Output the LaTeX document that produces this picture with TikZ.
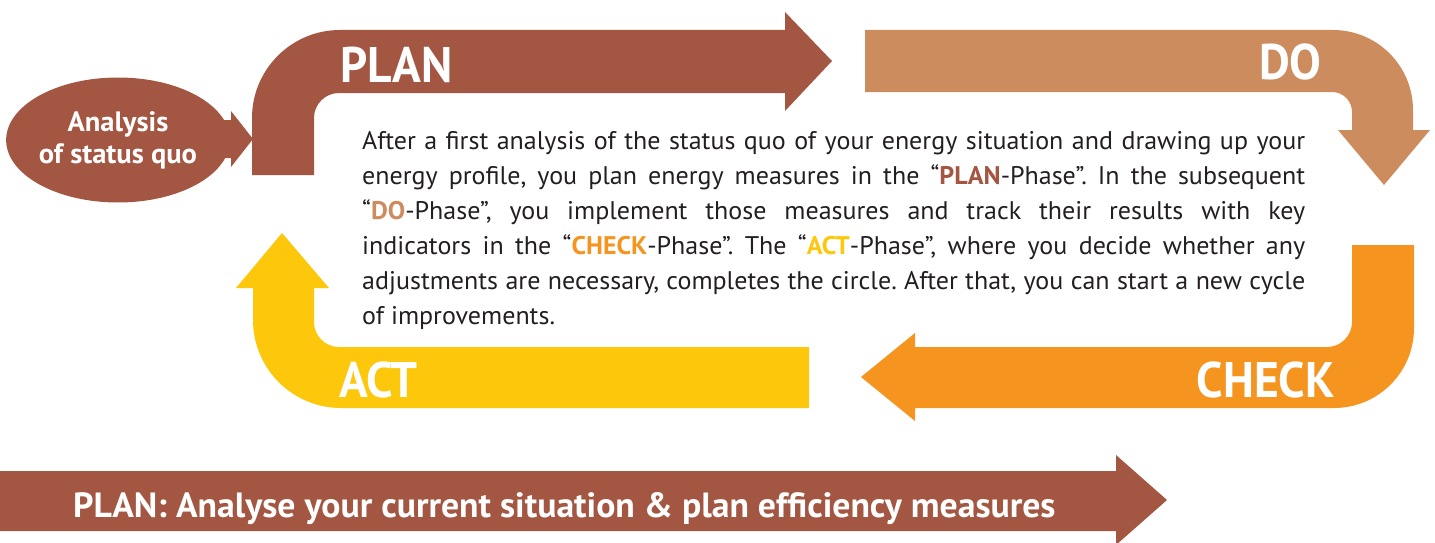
\documentclass[tikz,border=0pt]{standalone}
\usepackage{fontspec}
\setmainfont[FakeStretch=1.02]{PT Sans}
\newfontfamily\headfont[FakeStretch=0.95]{PT Sans}
\usetikzlibrary{shapes.geometric}

\definecolor{plancol}{RGB}{163,86,66}
\definecolor{docol}{RGB}{205,140,94}
\definecolor{checkcol}{RGB}{245,148,30}
\definecolor{actcol}{RGB}{253,199,12}
\definecolor{txtcol}{RGB}{35,31,32}

\newcommand{\pword}[2]{\textcolor{#1}{\bfseries #2}}

\begin{document}
\frenchspacing
\begin{tikzpicture}[
  x=1pt, y=1pt,
  phase/.style={text=white, inner sep=0, font=\headfont\fontsize{50}{50}\selectfont\bfseries},
  quo/.style={ellipse, fill=plancol, minimum width=220pt, minimum height=125pt, inner sep=0, align=center, text=white, font=\fontsize{28}{32}\selectfont\bfseries},
  body/.style={text width=943pt, align=justify, inner sep=0, text=txtcol, font=\fontsize{25.5}{35}\selectfont},
  banner/.style={text=white, inner sep=0, font=\fontsize{35}{35}\selectfont\bfseries}
]
\useasboundingbox (0,0) rectangle (1435,-543);

% PLAN arrow
\fill[plancol] (252,-175) -- (252,-118) arc[start angle=180, end angle=90, radius=88]
  -- (785,-30) -- (785,-12) -- (832,-61) -- (785,-111) -- (785,-93)
  -- (339,-93) arc[start angle=90, end angle=180, radius=25] -- (314,-175) -- cycle;
% DO arrow
\fill[docol] (865,-30) -- (1333,-30) arc[start angle=90, end angle=0, radius=80]
  -- (1413,-130) -- (1430,-130) -- (1384,-185) -- (1338,-130) -- (1352,-130)
  -- (1352,-112) arc[start angle=0, end angle=90, radius=20] -- (865,-92) -- cycle;
% CHECK arrow
\fill[checkcol] (1414,-245) -- (1414,-328) arc[start angle=0, end angle=-90, radius=80]
  -- (915,-408) -- (915,-421) -- (861,-377) -- (915,-333) -- (915,-347)
  -- (1327,-347) arc[start angle=-90, end angle=0, radius=25] -- (1352,-245) -- cycle;
% ACT arrow
\fill[actcol] (809,-347) -- (339,-347) arc[start angle=-90, end angle=-180, radius=25]
  -- (314,-288) -- (329,-288) -- (282,-233) -- (236,-288) -- (253,-288)
  -- (253,-320) arc[start angle=180, end angle=270, radius=88] -- (809,-408) -- cycle;

% status quo
\node[quo] (quo) at (118,-140) {Analysis\\of status quo};
\fill[plancol] (210,-120) -- (231,-120) -- (231,-111) -- (253,-139)
  -- (231,-167) -- (231,-158) -- (210,-158) -- cycle;

\node[phase, anchor=base west] (lplan) at (340,-82) {PLAN};
\node[phase, anchor=base east] (ldo) at (1322,-80) {DO};
\node[phase, anchor=base east] (lcheck) at (1335,-397) {CHECK};
\node[phase, anchor=base west] (lact) at (339,-397) {ACT};

\node[body, anchor=north west] (txt) at (362,-131) {After a first analysis of the status quo of your energy situation and drawing up your\linebreak
energy profile, you plan energy measures in the “\pword{plancol}{PLAN}-Phase”. In the subsequent\linebreak
“\pword{docol}{DO}-Phase”, you implement those measures and track their results with key\linebreak
indicators in the “\pword{checkcol}{CHECK}-Phase”. The “\pword{actcol}{ACT}-Phase”, where you decide whether any\linebreak
adjustments are necessary, completes the circle. After that, you can start a new cycle\linebreak
of improvements.};

% bottom banner
\fill[plancol] (0,-471) -- (1116,-471) -- (1116,-455) -- (1167,-500)
  -- (1116,-545) -- (1116,-531) -- (0,-531) -- cycle;
\node[banner, anchor=base west] (bplan) at (73,-517) {PLAN: Analyse your current situation \& plan efficiency measures};
\end{tikzpicture}
\end{document}
